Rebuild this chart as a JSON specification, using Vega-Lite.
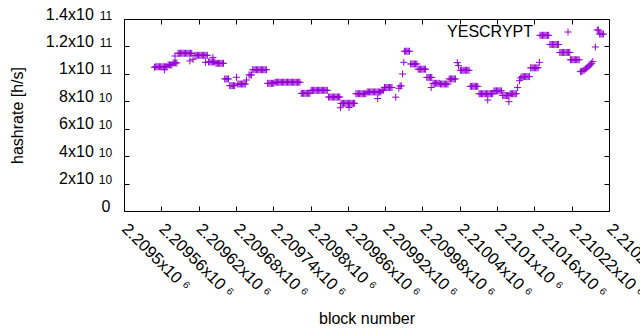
{
  "$schema": "https://vega.github.io/schema/vega-lite/v6.json",
  "width": 485,
  "height": 192,
  "autosize": {"type": "none"},
  "padding": {"left": 124, "top": 19, "right": 31, "bottom": 119},
  "config": {
    "view": {"stroke": "black", "strokeWidth": 1},
    "font": "Liberation Sans",
    "axis": {
      "labelFont": "Liberation Sans", "labelFontSize": 16, "labelColor": "black",
      "titleFont": "Liberation Sans", "titleFontSize": 16, "titleFontWeight": "normal", "titleColor": "black",
      "tickColor": "black", "tickWidth": 1, "domain": false, "grid": false,
      "labelOverlap": false, "labelFlush": false, "labelBound": false
    }
  },
  "data": {"values": [
    {"b":2209549,"h":1.048e11},{"b":2209551,"h":1.052e11},{"b":2209553,"h":1.052e11},{"b":2209555,"h":1.052e11},{"b":2209557,"h":1.052e11},{"b":2209559,"h":1.052e11},{"b":2209561,"h":1.052e11},{"b":2209563,"h":1.052e11},{"b":2209565,"h":1.052e11},{"b":2209567,"h":1.052e11},{"b":2209569,"h":1.052e11},{"b":2209565,"h":1.03e11},
    {"b":2209571,"h":1.065e11},{"b":2209573,"h":1.065e11},{"b":2209575,"h":1.065e11},{"b":2209577,"h":1.065e11},
    {"b":2209579,"h":1.08e11},{"b":2209581,"h":1.08e11},{"b":2209583,"h":1.08e11},{"b":2209585,"h":1.08e11},
    {"b":2209582,"h":1.13e11},{"b":2209587,"h":1.15e11},{"b":2209589,"h":1.15e11},{"b":2209591,"h":1.15e11},{"b":2209593,"h":1.15e11},{"b":2209595,"h":1.15e11},{"b":2209597,"h":1.15e11},{"b":2209599,"h":1.15e11},{"b":2209601,"h":1.15e11},{"b":2209603,"h":1.15e11},{"b":2209605,"h":1.15e11},{"b":2209607,"h":1.15e11},{"b":2209609,"h":1.15e11},
    {"b":2209606,"h":1.094e11},{"b":2209611,"h":1.106e11},
    {"b":2209614,"h":1.135e11},{"b":2209616,"h":1.135e11},{"b":2209618,"h":1.135e11},{"b":2209620,"h":1.135e11},{"b":2209622,"h":1.135e11},{"b":2209624,"h":1.135e11},{"b":2209626,"h":1.135e11},{"b":2209628,"h":1.135e11},{"b":2209630,"h":1.135e11},{"b":2209632,"h":1.135e11},{"b":2209634,"h":1.135e11},
    {"b":2209631,"h":1.084e11},{"b":2209636,"h":1.087e11},{"b":2209638,"h":1.087e11},{"b":2209640,"h":1.087e11},{"b":2209642,"h":1.087e11},{"b":2209644,"h":1.087e11},{"b":2209646,"h":1.087e11},{"b":2209643,"h":1.12e11},
    {"b":2209648,"h":1.077e11},{"b":2209650,"h":1.077e11},{"b":2209652,"h":1.077e11},{"b":2209654,"h":1.077e11},{"b":2209656,"h":1.077e11},{"b":2209658,"h":1.077e11},{"b":2209660,"h":1.077e11},
    {"b":2209662,"h":9.63e10},{"b":2209664,"h":9.63e10},{"b":2209666,"h":9.63e10},{"b":2209668,"h":9.63e10},
    {"b":2209670,"h":9.14e10},{"b":2209672,"h":9.14e10},{"b":2209674,"h":9.14e10},{"b":2209676,"h":9.14e10},{"b":2209678,"h":9.14e10},
    {"b":2209681,"h":9.75e10},
    {"b":2209683,"h":9.26e10},{"b":2209685,"h":9.26e10},{"b":2209687,"h":9.26e10},{"b":2209689,"h":9.26e10},{"b":2209691,"h":9.26e10},{"b":2209693,"h":9.26e10},{"b":2209695,"h":9.26e10},
    {"b":2209697,"h":9.55e10},
    {"b":2209701,"h":9.92e10},{"b":2209703,"h":9.92e10},{"b":2209705,"h":9.92e10},
    {"b":2209707,"h":1.03e11},{"b":2209709,"h":1.03e11},{"b":2209711,"h":1.03e11},{"b":2209713,"h":1.03e11},{"b":2209715,"h":1.03e11},{"b":2209717,"h":1.03e11},{"b":2209719,"h":1.03e11},{"b":2209721,"h":1.03e11},{"b":2209723,"h":1.03e11},{"b":2209725,"h":1.03e11},{"b":2209727,"h":1.03e11},{"b":2209729,"h":1.03e11},
    {"b":2209731,"h":9.31e10},{"b":2209733,"h":9.31e10},{"b":2209735,"h":9.31e10},{"b":2209737,"h":9.31e10},{"b":2209739,"h":9.31e10},{"b":2209741,"h":9.31e10},
    {"b":2209743,"h":9.39e10},{"b":2209745,"h":9.39e10},{"b":2209747,"h":9.39e10},{"b":2209749,"h":9.39e10},{"b":2209751,"h":9.39e10},{"b":2209753,"h":9.39e10},{"b":2209755,"h":9.39e10},{"b":2209757,"h":9.39e10},{"b":2209759,"h":9.39e10},{"b":2209761,"h":9.39e10},{"b":2209763,"h":9.39e10},{"b":2209765,"h":9.39e10},{"b":2209767,"h":9.39e10},{"b":2209769,"h":9.39e10},{"b":2209771,"h":9.39e10},{"b":2209773,"h":9.39e10},{"b":2209775,"h":9.39e10},{"b":2209777,"h":9.39e10},{"b":2209779,"h":9.39e10},{"b":2209781,"h":9.39e10},{"b":2209783,"h":9.39e10},
    {"b":2209785,"h":8.58e10},{"b":2209787,"h":8.58e10},{"b":2209789,"h":8.58e10},{"b":2209791,"h":8.58e10},{"b":2209793,"h":8.58e10},{"b":2209795,"h":8.58e10},{"b":2209797,"h":8.58e10},{"b":2209799,"h":8.58e10},
    {"b":2209801,"h":8.8e10},{"b":2209803,"h":8.8e10},{"b":2209805,"h":8.8e10},{"b":2209807,"h":8.8e10},{"b":2209809,"h":8.8e10},{"b":2209811,"h":8.8e10},{"b":2209813,"h":8.8e10},{"b":2209815,"h":8.8e10},{"b":2209817,"h":8.8e10},{"b":2209819,"h":8.8e10},{"b":2209821,"h":8.8e10},{"b":2209823,"h":8.8e10},{"b":2209825,"h":8.8e10},{"b":2209827,"h":8.8e10},
    {"b":2209829,"h":8.31e10},{"b":2209831,"h":8.31e10},{"b":2209833,"h":8.31e10},{"b":2209835,"h":8.31e10},{"b":2209837,"h":8.31e10},{"b":2209839,"h":8.31e10},{"b":2209841,"h":8.31e10},{"b":2209843,"h":8.31e10},{"b":2209845,"h":8.31e10},{"b":2209847,"h":8.31e10},
    {"b":2209848,"h":7.53e10},{"b":2209849,"h":7.85e10},{"b":2209851,"h":7.85e10},{"b":2209853,"h":7.85e10},{"b":2209855,"h":7.85e10},{"b":2209857,"h":7.85e10},{"b":2209859,"h":7.85e10},{"b":2209861,"h":7.85e10},{"b":2209863,"h":7.85e10},{"b":2209865,"h":7.85e10},{"b":2209867,"h":7.85e10},{"b":2209869,"h":7.85e10},{"b":2209871,"h":7.85e10},{"b":2209862,"h":7.55e10},
    {"b":2209873,"h":8.55e10},{"b":2209875,"h":8.55e10},{"b":2209877,"h":8.55e10},{"b":2209879,"h":8.55e10},{"b":2209881,"h":8.55e10},{"b":2209883,"h":8.55e10},{"b":2209885,"h":8.55e10},{"b":2209887,"h":8.55e10},{"b":2209889,"h":8.55e10},
    {"b":2209891,"h":8.68e10},{"b":2209893,"h":8.68e10},{"b":2209895,"h":8.68e10},{"b":2209897,"h":8.68e10},{"b":2209899,"h":8.68e10},{"b":2209901,"h":8.68e10},{"b":2209903,"h":8.68e10},{"b":2209905,"h":8.68e10},{"b":2209907,"h":8.68e10},{"b":2209909,"h":8.68e10},{"b":2209911,"h":8.68e10},{"b":2209913,"h":8.68e10},{"b":2209908,"h":8.2e10},
    {"b":2209915,"h":8.8e10},{"b":2209917,"h":8.8e10},
    {"b":2209919,"h":9.01e10},{"b":2209921,"h":9.01e10},{"b":2209923,"h":9.01e10},{"b":2209925,"h":9.01e10},{"b":2209927,"h":9.01e10},{"b":2209929,"h":9.01e10},{"b":2209931,"h":9.01e10},{"b":2209937,"h":8.3e10},{"b":2209942,"h":8.95e10},
    {"b":2209944,"h":9.12e10},{"b":2209946,"h":9.12e10},
    {"b":2209948,"h":9.99e10},{"b":2209950,"h":1.084e11},
    {"b":2209951,"h":1.165e11},{"b":2209953,"h":1.165e11},{"b":2209955,"h":1.165e11},{"b":2209957,"h":1.165e11},{"b":2209959,"h":1.165e11},
    {"b":2209961,"h":1.072e11},{"b":2209963,"h":1.072e11},{"b":2209965,"h":1.072e11},{"b":2209967,"h":1.072e11},{"b":2209969,"h":1.072e11},{"b":2209971,"h":1.072e11},
    {"b":2209973,"h":1.034e11},{"b":2209975,"h":1.034e11},{"b":2209977,"h":1.034e11},{"b":2209979,"h":1.034e11},{"b":2209981,"h":1.034e11},{"b":2209983,"h":1.034e11},{"b":2209985,"h":1.034e11},
    {"b":2209987,"h":9.74e10},{"b":2209989,"h":9.74e10},{"b":2209991,"h":9.74e10},{"b":2209993,"h":9.74e10},{"b":2209995,"h":9.74e10},{"b":2209994,"h":9.0e10},
    {"b":2209997,"h":9.31e10},{"b":2209999,"h":9.31e10},{"b":2210001,"h":9.31e10},{"b":2210003,"h":9.31e10},{"b":2210005,"h":9.31e10},{"b":2210007,"h":9.31e10},
    {"b":2210009,"h":9.26e10},{"b":2210011,"h":9.26e10},{"b":2210013,"h":9.26e10},{"b":2210015,"h":9.26e10},{"b":2210017,"h":9.26e10},{"b":2210019,"h":9.26e10},{"b":2210021,"h":9.26e10},
    {"b":2210023,"h":9.63e10},{"b":2210025,"h":9.63e10},{"b":2210027,"h":9.63e10},{"b":2210029,"h":9.63e10},{"b":2210031,"h":9.63e10},{"b":2210033,"h":9.63e10},
    {"b":2210036,"h":1.082e11},{"b":2210038,"h":1.06e11},
    {"b":2210041,"h":1.026e11},{"b":2210043,"h":1.026e11},{"b":2210045,"h":1.026e11},{"b":2210047,"h":1.026e11},{"b":2210049,"h":1.026e11},{"b":2210051,"h":1.026e11},{"b":2210053,"h":1.026e11},{"b":2210055,"h":1.026e11},
    {"b":2210057,"h":9.09e10},{"b":2210059,"h":9.09e10},{"b":2210061,"h":9.09e10},{"b":2210063,"h":9.09e10},{"b":2210065,"h":9.09e10},{"b":2210067,"h":9.09e10},{"b":2210069,"h":9.09e10},
    {"b":2210071,"h":8.55e10},{"b":2210073,"h":8.55e10},{"b":2210075,"h":8.55e10},{"b":2210077,"h":8.55e10},{"b":2210079,"h":8.55e10},{"b":2210081,"h":8.55e10},{"b":2210083,"h":8.55e10},{"b":2210085,"h":8.55e10},{"b":2210087,"h":8.55e10},{"b":2210089,"h":8.55e10},{"b":2210091,"h":8.55e10},{"b":2210093,"h":8.55e10},{"b":2210085,"h":8.09e10},
    {"b":2210095,"h":8.76e10},{"b":2210097,"h":8.76e10},{"b":2210099,"h":8.76e10},{"b":2210101,"h":8.76e10},{"b":2210103,"h":8.76e10},{"b":2210105,"h":8.76e10},{"b":2210107,"h":8.76e10},
    {"b":2210109,"h":8.42e10},{"b":2210111,"h":8.42e10},{"b":2210113,"h":8.42e10},{"b":2210115,"h":8.42e10},{"b":2210117,"h":8.42e10},{"b":2210119,"h":8.42e10},{"b":2210119,"h":7.97e10},
    {"b":2210121,"h":8.55e10},{"b":2210123,"h":8.55e10},{"b":2210125,"h":8.55e10},{"b":2210127,"h":8.55e10},{"b":2210129,"h":8.55e10},{"b":2210131,"h":8.55e10},
    {"b":2210133,"h":9.0e10},{"b":2210136,"h":9.5e10},{"b":2210138,"h":9.7e10},
    {"b":2210140,"h":9.8e10},{"b":2210142,"h":9.8e10},{"b":2210144,"h":9.8e10},{"b":2210146,"h":9.8e10},{"b":2210148,"h":9.8e10},{"b":2210150,"h":9.8e10},{"b":2210152,"h":9.8e10},
    {"b":2210154,"h":1.044e11},{"b":2210156,"h":1.044e11},{"b":2210158,"h":1.044e11},{"b":2210160,"h":1.044e11},{"b":2210162,"h":1.044e11},{"b":2210164,"h":1.044e11},{"b":2210166,"h":1.044e11},{"b":2210168,"h":1.084e11},
    {"b":2210169,"h":1.281e11},{"b":2210171,"h":1.281e11},{"b":2210173,"h":1.281e11},{"b":2210175,"h":1.281e11},{"b":2210177,"h":1.281e11},{"b":2210179,"h":1.281e11},{"b":2210181,"h":1.281e11},{"b":2210183,"h":1.281e11},
    {"b":2210185,"h":1.214e11},{"b":2210187,"h":1.214e11},{"b":2210189,"h":1.214e11},{"b":2210191,"h":1.214e11},{"b":2210193,"h":1.214e11},{"b":2210195,"h":1.214e11},{"b":2210197,"h":1.214e11},{"b":2210199,"h":1.214e11},
    {"b":2210201,"h":1.156e11},{"b":2210203,"h":1.156e11},{"b":2210205,"h":1.156e11},{"b":2210207,"h":1.156e11},{"b":2210209,"h":1.156e11},{"b":2210211,"h":1.156e11},{"b":2210213,"h":1.156e11},{"b":2210215,"h":1.156e11},{"b":2210217,"h":1.156e11},
    {"b":2210218,"h":1.103e11},{"b":2210220,"h":1.103e11},{"b":2210222,"h":1.103e11},{"b":2210224,"h":1.103e11},{"b":2210226,"h":1.103e11},{"b":2210228,"h":1.103e11},{"b":2210230,"h":1.103e11},{"b":2210232,"h":1.103e11},
    {"b":2210234,"h":1.016e11},{"b":2210236,"h":1.018e11},{"b":2210238,"h":1.022e11},{"b":2210240,"h":1.028e11},{"b":2210242,"h":1.035e11},{"b":2210244,"h":1.042e11},{"b":2210246,"h":1.05e11},{"b":2210248,"h":1.058e11},{"b":2210250,"h":1.066e11},{"b":2210252,"h":1.077e11},{"b":2210254,"h":1.089e11},
    {"b":2210258,"h":1.196e11},
    {"b":2210261,"h":1.32e11},{"b":2210263,"h":1.32e11},
    {"b":2210265,"h":1.29e11},{"b":2210267,"h":1.29e11},{"b":2210269,"h":1.29e11},{"b":2210271,"h":1.29e11}
  ]},
  "layer": [
    {
      "mark": {"type": "point", "shape": "M-1,0H1M0,-1V1", "filled": false, "strokeWidth": 1, "size": 49, "opacity": 1},
      "encoding": {
        "x": {
          "field": "b", "type": "quantitative",
          "scale": {"domain": [2209500, 2210280], "nice": false, "zero": false},
          "axis": {
            "orient": "bottom", "offset": -5, "zindex": 1,
            "values": [2209500, 2209560, 2209620, 2209680, 2209740, 2209800, 2209860, 2209920, 2209980, 2210040, 2210100, 2210160, 2210220, 2210280],
            "labelExpr": "toString(datum.value/1e6) + 'x10 ⁶'",
            "labelFontSize": 16.5,
            "labelAngle": 45, "labelAlign": "left", "labelBaseline": "middle",
            "ticks": true, "tickSize": 5, "labelPadding": 15,
            "title": "block number", "titleY": 117, "titleBaseline": "alphabetic"
          }
        },
        "y": {
          "field": "h", "type": "quantitative",
          "scale": {"domain": [0, 1.4e11], "nice": false, "zero": true},
          "axis": {
            "orient": "left", "offset": -5, "zindex": 1,
            "values": [0, 2e10, 4e10, 6e10, 8e10, 1e11, 1.2e11, 1.4e11],
            "labelExpr": "datum.value == 0 ? '0' : datum.value < 1e11 ? toString(datum.value/1e10) + 'x10' : toString(datum.value/1e11) + 'x10'",
            "labelBaseline": "alphabetic", "labelDy": 5,
            "ticks": true, "tickSize": 5,
            "labelPadding": {"condition": {"test": "datum.value == 0", "value": 14}, "value": 30.7},
            "title": "hashrate [h/s]", "titleX": -107, "titleY": 96, "titleBaseline": "alphabetic"
          }
        },
        "color": {
          "datum": "YESCRYPT",
          "scale": {"range": ["#9400D3"]},
          "legend": {
            "title": null, "orient": "none", "legendX": 436, "legendY": 5,
            "labelFont": "Liberation Sans", "labelFontSize": 16, "labelColor": "black",
            "labelAlign": "right", "labelOffset": -43,
            "symbolType": "M-1,0H1M0,-1V1", "symbolSize": 49, "symbolStrokeWidth": 1, "symbolFillColor": "transparent", "symbolStrokeColor": "#9400D3"
          }
        }
      }
    },
    {
      "mark": {"type": "point", "opacity": 0},
      "encoding": {
        "x": {"field": "b", "type": "quantitative", "axis": null},
        "y": {
          "field": "h", "type": "quantitative",
          "axis": {
            "orient": "left",
            "values": [2e10, 4e10, 6e10, 8e10, 1e11, 1.2e11, 1.4e11],
            "labelExpr": "datum.value < 1e11 ? '10' : '11'",
            "labelFontSize": 12, "labelBaseline": "alphabetic", "labelDy": 2,
            "ticks": false, "labelPadding": 12.3, "title": null
          }
        }
      }
    },
    {
      "mark": {"type": "point", "opacity": 0},
      "encoding": {
        "x": {
          "field": "b", "type": "quantitative",
          "axis": {"orient": "top", "offset": -5, "zindex": 1, "values": [2209500, 2209560, 2209620, 2209680, 2209740, 2209800, 2209860, 2209920, 2209980, 2210040, 2210100, 2210160, 2210220, 2210280], "labels": false, "ticks": true, "tickSize": 5, "title": null}
        },
        "y": {
          "field": "h", "type": "quantitative",
          "axis": {"orient": "right", "offset": -5, "zindex": 1, "values": [0, 2e10, 4e10, 6e10, 8e10, 1e11, 1.2e11, 1.4e11], "labels": false, "ticks": true, "tickSize": 5, "title": null}
        }
      }
    }
  ],
  "resolve": {"axis": {"x": "independent", "y": "independent"}}
}
